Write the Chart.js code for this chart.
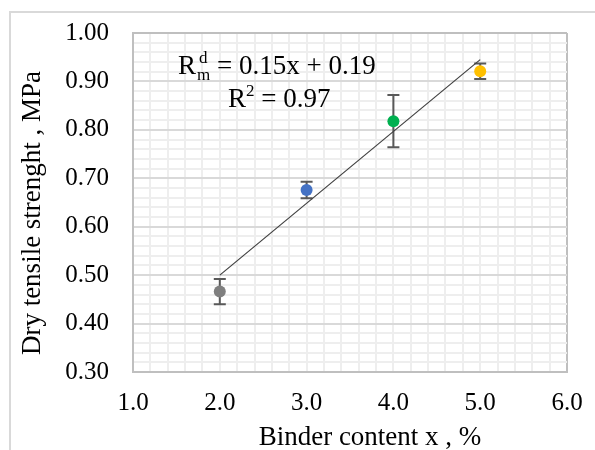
<!DOCTYPE html>
<html>
<head>
<meta charset="utf-8">
<script src="https://cdn.jsdelivr.net/npm/chart.js@4/dist/chart.umd.min.js"></script>
<style>
  html, body { margin: 0; padding: 0; background: #fff; }
  #wrap { width: 595px; height: 450px; }
</style>
</head>
<body>
<div id="wrap"><canvas id="myChart" width="595" height="450"></canvas></div>
<script>
// binder content (%) and dry tensile strength (MPa)
const binder = [2, 3, 4, 5];
const strength = [0.466, 0.676, 0.818, 0.921];
const errBar = [0.026, 0.017, 0.054, 0.016];
const pointColors = ['#7f7f7f', '#4472c4', '#00b050', '#ffc000'];

// trendline end points
const trendX = [2, 5];
const trendY = [0.50, 0.945];

const xRange = [1, 6];
const yRange = [0.3, 1.0];

const serif = "'Liberation Serif', 'Times New Roman', serif";

function isMajor(v, step) {
    const q = v / step;
    return Math.abs(q - Math.round(q)) < 1e-6;
}

const frame = {
    id: 'frame',
    beforeDraw(chart) {
        const ctx = chart.ctx;
        ctx.save();
        ctx.strokeStyle = '#d9d9d9';
        ctx.lineWidth = 2;
        ctx.beginPath();
        ctx.moveTo(10, 450);
        ctx.lineTo(10, 12);
        ctx.lineTo(595, 12);
        ctx.stroke();
        ctx.restore();
    }
};

const errorBars = {
    id: 'errorBars',
    beforeDatasetsDraw(chart) {
        const ctx = chart.ctx;
        const xs = chart.scales.x, ys = chart.scales.y;
        ctx.save();
        ctx.strokeStyle = '#595959';
        ctx.lineWidth = 2;
        binder.forEach(function(b, i) {
            const px = xs.getPixelForValue(b);
            const top = ys.getPixelForValue(strength[i] + errBar[i]);
            const bot = ys.getPixelForValue(strength[i] - errBar[i]);
            ctx.beginPath();
            ctx.moveTo(px, top); ctx.lineTo(px, bot);
            ctx.moveTo(px - 6, top); ctx.lineTo(px + 6, top);
            ctx.moveTo(px - 6, bot); ctx.lineTo(px + 6, bot);
            ctx.stroke();
        });
        ctx.restore();
    }
};

const texts = {
    id: 'texts',
    afterDraw(chart) {
        const ctx = chart.ctx;
        ctx.save();
        ctx.fillStyle = '#000';
        ctx.textBaseline = 'alphabetic';

        // axis titles
        ctx.font = '27px ' + serif;
        ctx.textAlign = 'center';
        ctx.fillText('Binder content x , %', 370, 445);
        ctx.save();
        ctx.translate(40, 213);
        ctx.rotate(-Math.PI / 2);
        ctx.fillText('Dry tensile strenght , MPa', 0, 0);
        ctx.restore();

        // equation
        ctx.textAlign = 'left';
        ctx.font = '27px ' + serif;
        let x = 178;
        ctx.fillText('R', x, 74);
        x += ctx.measureText('R').width + 1;
        ctx.font = '17px ' + serif;
        ctx.fillText('d', x + 2, 63);
        ctx.fillText('m', x, 80);
        x += ctx.measureText('m').width;
        ctx.font = '27px ' + serif;
        ctx.fillText(' = 0.15x + 0.19', x, 74);

        x = 228;
        ctx.fillText('R', x, 107);
        x += ctx.measureText('R').width;
        ctx.font = '17px ' + serif;
        ctx.fillText('2', x, 96);
        x += ctx.measureText('2').width;
        ctx.font = '27px ' + serif;
        ctx.fillText(' = 0.97', x, 107);
        ctx.restore();
    }
};

const ctx = document.getElementById('myChart').getContext('2d');
const myChart = new Chart(ctx, {
    type: 'scatter',
    data: {
        datasets: [{
            label: 'Strength',
            data: binder.map(function(b, i) { return { x: b, y: strength[i] }; }),
            pointBackgroundColor: pointColors,
            pointBorderWidth: 0,
            pointRadius: 6,
            pointHoverRadius: 6,
            order: 1
        }, {
            label: 'Trend',
            type: 'line',
            data: trendX.map(function(t, i) { return { x: t, y: trendY[i] }; }),
            borderColor: '#404040',
            borderWidth: 1.2,
            pointRadius: 0,
            fill: false,
            order: 2
        }]
    },
    options: {
        responsive: false,
        animation: false,
        layout: { padding: { left: 0, top: 33, right: 28, bottom: 0 } },
        plugins: {
            legend: { display: false },
            tooltip: { enabled: false }
        },
        scales: {
            x: {
                type: 'linear',
                min: xRange[0],
                max: xRange[1],
                afterFit: function(scale) {
                    scale.height = 78;
                    scale.paddingLeft = 0;
                    scale.paddingRight = 0;
                },
                ticks: {
                    stepSize: 0.2,
                    maxTicksLimit: 100,
                    autoSkip: false,
                    maxRotation: 0,
                    padding: 16,
                    color: '#000',
                    font: { family: serif, size: 25 },
                    callback: function(v) { return isMajor(v, 1) ? v.toFixed(1) : ''; }
                },
                grid: {
                    drawTicks: false,
                    lineWidth: 2,
                    color: function(c) {
                        const v = c.tick.value;
                        if (Math.abs(v - xRange[1]) < 1e-6) return '#bfbfbf';
                        return '#eeeeee';
                    }
                },
                border: { color: '#bfbfbf', width: 2 }
            },
            y: {
                min: yRange[0],
                max: yRange[1],
                afterFit: function(scale) {
                    scale.width = 133;
                    scale.paddingTop = 0;
                    scale.paddingBottom = 0;
                },
                ticks: {
                    stepSize: 0.02,
                    maxTicksLimit: 100,
                    autoSkip: false,
                    padding: 24,
                    color: '#000',
                    font: { family: serif, size: 25 },
                    callback: function(v) { return isMajor(v, 0.1) ? v.toFixed(2) : ''; }
                },
                grid: {
                    drawTicks: false,
                    lineWidth: 2,
                    color: function(c) {
                        const v = c.tick.value;
                        if (Math.abs(v - yRange[1]) < 1e-6) return '#bfbfbf';
                        return isMajor(v, 0.1) ? '#d9d9d9' : '#eeeeee';
                    }
                },
                border: { color: '#bfbfbf', width: 2 }
            }
        }
    },
    plugins: [frame, errorBars, texts]
});
</script>
</body>
</html>
